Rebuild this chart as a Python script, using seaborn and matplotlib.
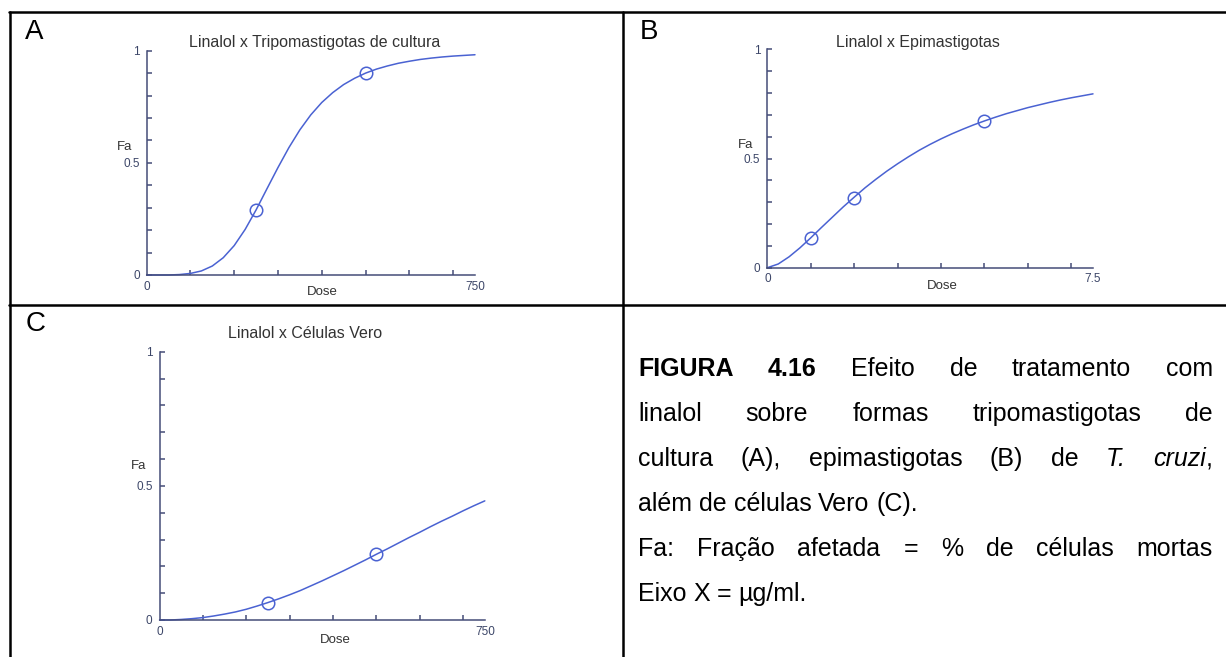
import matplotlib
matplotlib.use("Agg")
import matplotlib.pyplot as plt
from matplotlib.lines import Line2D
import seaborn as sns

# curve values (dose, fraction affected)
dose_750 = [0, 25, 50, 75, 100, 125, 150, 175, 200, 225, 250, 275, 300, 325, 350, 375,
            400, 425, 450, 475, 500, 525, 550, 575, 600, 625, 650, 675, 700, 725, 750]
dose_7_5 = [0, 0.25, 0.5, 0.75, 1.0, 1.25, 1.5, 1.75, 2.0, 2.25, 2.5, 2.75, 3.0, 3.25, 3.5, 3.75,
            4.0, 4.25, 4.5, 4.75, 5.0, 5.25, 5.5, 5.75, 6.0, 6.25, 6.5, 6.75, 7.0, 7.25, 7.5]
fa_tripo = [0, 0, 0, 0.002, 0.007, 0.018, 0.040, 0.077, 0.131, 0.203, 0.290, 0.385, 0.479,
            0.568, 0.647, 0.714, 0.769, 0.813, 0.849, 0.877, 0.900, 0.918, 0.932, 0.944,
            0.953, 0.961, 0.967, 0.972, 0.976, 0.979, 0.982]
fa_epi = [0, 0.017, 0.050, 0.091, 0.137, 0.185, 0.232, 0.279, 0.323, 0.366, 0.405, 0.442,
          0.476, 0.508, 0.538, 0.565, 0.590, 0.613, 0.634, 0.654, 0.672, 0.689, 0.705,
          0.719, 0.733, 0.745, 0.757, 0.768, 0.778, 0.787, 0.796]
fa_vero = [0, 0, 0.002, 0.005, 0.009, 0.015, 0.022, 0.030, 0.040, 0.052, 0.065, 0.079,
           0.094, 0.110, 0.128, 0.146, 0.165, 0.184, 0.204, 0.224, 0.245, 0.265, 0.286,
           0.307, 0.327, 0.348, 0.368, 0.387, 0.407, 0.426, 0.444]

# measured points (circles)
pts_dose_tripo = [250, 500]
pts_fa_tripo = [0.29, 0.90]
pts_dose_epi = [1, 2, 5]
pts_fa_epi = [0.137, 0.32, 0.672]
pts_dose_vero = [250, 500]
pts_fa_vero = [0.065, 0.245]

titles = ["Linalol x Tripomastigotas de cultura", "Linalol x Epimastigotas", "Linalol x Células Vero"]
letters = ["A", "B", "C"]
x_limits = [750, 7.5, 750]
x_labels = [["0", "750"], ["0", "7.5"], ["0", "750"]]
minor_750 = [100, 200, 300, 400, 500, 600, 700]
minor_7_5 = [1, 2, 3, 4, 5, 6, 7]
y_ticks = [0, 0.1, 0.2, 0.3, 0.4, 0.5, 0.6, 0.7, 0.8, 0.9, 1.0]
y_labels = ["0", "", "", "", "", "0.5", "", "", "", "", "1"]

caption = [
    "FIGURA 4.16 Efeito de tratamento com",
    "linalol sobre formas tripomastigotas de",
    "cultura (A), epimastigotas (B) de T. cruzi,",
    "além de células Vero (C).",
    "Fa: Fração afetada = % de células mortas",
    "Eixo X = µg/ml.",
]
justified = [True, True, True, False, True, False]
bold_words = {"FIGURA", "4.16"}
italic_words = {"T.", "cruzi"}

sns.set_style("white")
plt.rcParams['font.family'] = ['Liberation Sans', 'DejaVu Sans']

W, H = 1226, 657
curve_col = '#4a62d2'
axis_col = '#454d78'
tick_col = '#3c4668'


def fx(x):
    return x / W


def fy(y):
    return 1 - y / H


fig = plt.figure(figsize=(12.26, 6.57), dpi=100)
fig.patch.set_facecolor('white')

# table borders
for (x0, y0, x1, y1) in [(9, 12, W, 12), (9.5, 12, 9.5, H), (623, 12, 623, H), (9, 305, W, 305)]:
    fig.add_artist(Line2D([fx(x0), fx(x1)], [fy(y0), fy(y1)], color='black', lw=1.8))

# axes boxes in pixels: left, top, right, bottom
boxes = [(146.6, 50.7, 475, 275), (767.4, 49.3, 1093, 267.7), (159.5, 351.7, 484.8, 620)]
curves = [(dose_750, fa_tripo), (dose_7_5, fa_epi), (dose_750, fa_vero)]
points = [(pts_dose_tripo, pts_fa_tripo), (pts_dose_epi, pts_fa_epi), (pts_dose_vero, pts_fa_vero)]
minors = [minor_750, minor_7_5, minor_750]

for i in range(3):
    x0, y0, x1, y1 = boxes[i]
    ax = fig.add_axes([fx(x0), fy(y1), (x1 - x0) / W, (y1 - y0) / H])
    ax.set_facecolor('none')
    sns.lineplot(x=curves[i][0], y=curves[i][1], ax=ax, color=curve_col, lw=1.1, clip_on=False)
    sns.lineplot(x=points[i][0], y=points[i][1], ax=ax, color=curve_col, marker='o', ls='',
                 mfc='none', mec=curve_col, ms=9, mew=1.1, clip_on=False)
    ax.set_xlim(0, x_limits[i])
    ax.set_ylim(0, 1)
    for s in ['top', 'right']:
        ax.spines[s].set_visible(False)
    for s in ['left', 'bottom']:
        ax.spines[s].set_color(axis_col)
        ax.spines[s].set_linewidth(1.1)
    ax.set_xticks([0, x_limits[i]], x_labels[i])
    ax.set_xticks(minors[i], minor=True)
    ax.set_yticks(y_ticks, y_labels)
    ax.tick_params(axis='x', which='major', bottom=True, length=0, pad=4, labelsize=8.5,
                   labelcolor=tick_col)
    ax.tick_params(axis='x', which='minor', bottom=True, direction='in', length=3.5, width=1.1,
                   color=axis_col)
    ax.tick_params(axis='y', which='major', left=True, direction='in', length=3.5, width=1.1,
                   color=axis_col, pad=5, labelsize=8.5, labelcolor=tick_col)
    ax.set_xlabel('')
    ax.set_ylabel('')

# panel texts (pixel positions)
title_pos = [(315, 43), (918, 43), (305, 333)]
fa_pos = [(125, 147), (746, 145), (139, 466)]
dose_pos = [(322, 292), (942, 286), (335, 640)]
letter_pos = [(25, 32), (640, 32), (26, 324)]
for i in range(3):
    fig.text(fx(title_pos[i][0]), fy(title_pos[i][1]), titles[i], ha='center', va='center',
             fontsize=11.5, color='#333333')
    fig.text(fx(fa_pos[i][0]), fy(fa_pos[i][1]), 'Fa', ha='center', va='center',
             fontsize=9.5, color='#333333')
    fig.text(fx(dose_pos[i][0]), fy(dose_pos[i][1]), 'Dose', ha='center', va='center',
             fontsize=9.5, color='#333333')
    fig.text(fx(letter_pos[i][0]), fy(letter_pos[i][1]), letters[i], ha='left', va='center',
             fontsize=20, color='black')

# justified caption
renderer = fig.canvas.get_renderer()
cap_fs = 18
left_px, right_px = 638, 1213
baselines = [376, 421, 466, 511, 556, 601]
space_px = 0.278 * cap_fs * 100 / 72

for line, just, base in zip(caption, justified, baselines):
    words = []
    for w in line.split(' '):
        if w in bold_words:
            segs = [(w, 'bold', 'normal')]
        elif w.rstrip(',') in italic_words and w.endswith(','):
            segs = [(w[:-1], 'normal', 'italic'), (',', 'normal', 'normal')]
        elif w in italic_words:
            segs = [(w, 'normal', 'italic')]
        else:
            segs = [(w, 'normal', 'normal')]
        objs = []
        for txt, weight, style in segs:
            t = fig.text(0, fy(base), txt, fontsize=cap_fs, fontweight=weight, fontstyle=style,
                         va='baseline', ha='left', color='black')
            objs.append((t, t.get_window_extent(renderer).width))
        words.append(objs)
    widths = [sum(wd for _, wd in objs) for objs in words]
    if just and len(words) > 1:
        gap = (right_px - left_px - sum(widths)) / (len(words) - 1)
    else:
        gap = space_px
    x = left_px
    for objs, wsum in zip(words, widths):
        xs = x
        for t, wd in objs:
            t.set_x(fx(xs))
            xs += wd
        x += wsum + gap

fig.savefig('out.png', dpi=100)
